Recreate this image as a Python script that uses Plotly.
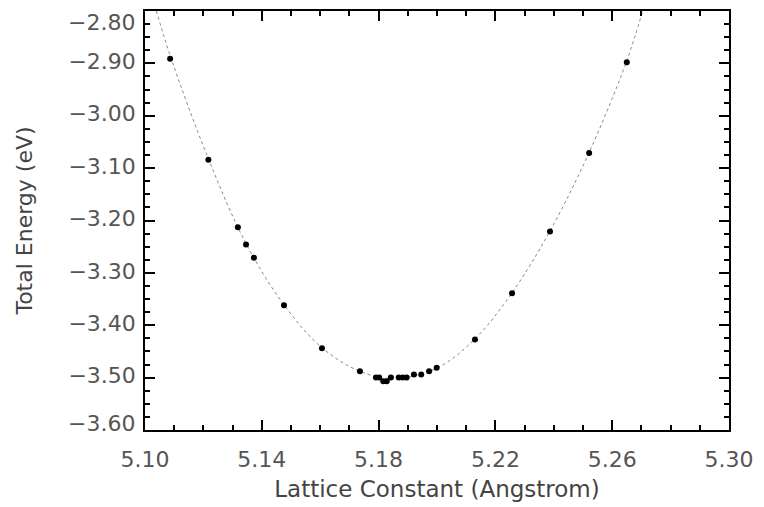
import plotly.graph_objects as go

# Measured data points (Lattice constant in Angstrom, total energy in eV)
lattice = [5.1086, 5.1217, 5.1318, 5.1346, 5.1373, 5.1476, 5.1606, 5.1736,
           5.1791, 5.1802, 5.1816, 5.1828, 5.1842, 5.1869, 5.1883, 5.1896,
           5.1921, 5.1946, 5.1973, 5.1999, 5.2130, 5.2257, 5.2387, 5.2521, 5.2650]
energy = [-2.891, -3.084, -3.213, -3.246, -3.271, -3.362, -3.444, -3.488,
          -3.500, -3.500, -3.507, -3.507, -3.500, -3.500, -3.500, -3.500,
          -3.494, -3.494, -3.488, -3.481, -3.427, -3.339, -3.221, -3.071, -2.898]

# Fitted curve (dotted line)
fit_x = [5.1039, 5.1086, 5.1217, 5.1346, 5.1476, 5.1606, 5.1736, 5.1850,
         5.1999, 5.2130, 5.2257, 5.2387, 5.2521, 5.2650, 5.2704]
fit_y = [-2.800, -2.885, -3.082, -3.244, -3.361, -3.443, -3.488, -3.502,
         -3.482, -3.426, -3.338, -3.220, -3.070, -2.895, -2.800]

x_ticks = [5.10, 5.14, 5.18, 5.22, 5.26, 5.30]
y_ticks = [-2.80, -2.90, -3.00, -3.10, -3.20, -3.30, -3.40, -3.50, -3.60]

font_family = "DejaVu Sans"
txt_color = "#555555"


def ylab(v):
    return f"\u2212{abs(v):.2f}"


fig = go.Figure()
fig.add_trace(go.Scatter(
    x=fit_x, y=fit_y, mode="lines",
    line=dict(color="#888888", width=1, dash="dot", shape="spline", smoothing=1.0),
    hoverinfo="skip", showlegend=False))
fig.add_trace(go.Scatter(
    x=lattice, y=energy, mode="markers",
    marker=dict(color="black", size=6),
    showlegend=False))

axis_common = dict(
    showgrid=False, zeroline=False, showline=True, linecolor="black", linewidth=1.5,
    mirror="ticks", ticks="inside", ticklen=10, tickwidth=1.5, tickcolor="black",
    tickfont=dict(family=font_family, size=22, color=txt_color),
    automargin=False, ticklabeloverflow="allow",
)

fig.update_xaxes(
    **axis_common,
    range=[5.10, 5.30], tickvals=x_ticks, ticktext=[f"{v:.2f}" for v in x_ticks],
    minor=dict(ticks="inside", ticklen=5, tickwidth=1.5, tickcolor="black", dtick=0.01),
    ticklabelstandoff=9,
    title=dict(text="Lattice Constant (Angstrom)",
               font=dict(family=font_family, size=23, color="#444444"), standoff=10),
)

# end labels are drawn as annotations (shifted inward, as in the reference)
inner_text = ["" if v in (y_ticks[0], y_ticks[-1]) else ylab(v) for v in y_ticks]
fig.update_yaxes(
    **axis_common,
    range=[-3.60, -2.80], tickvals=y_ticks, ticktext=inner_text,
    minor=dict(ticks="inside", ticklen=5, tickwidth=1.5, tickcolor="black", dtick=0.025),
    ticklabelstandoff=3, ticklabelshift=-2,
    title=dict(text="Total Energy (eV)",
               font=dict(family=font_family, size=22, color="#444444"), standoff=30),
)

for v, shift in ((y_ticks[0], -11), (y_ticks[-1], 7)):
    fig.add_annotation(
        xref="paper", yref="y", x=0, y=v, text=ylab(v), showarrow=False,
        xanchor="right", yanchor="middle", xshift=-8, yshift=shift,
        font=dict(family=font_family, size=22, color=txt_color))

# page body adds an 8px offset; sizes compensate so the plot box lands at 145..729 x 11..430
fig.update_layout(
    width=756, height=499,
    margin=dict(l=137, r=35, t=3, b=77),
    plot_bgcolor="white", paper_bgcolor="white",
)

fig.write_html("out.html")
